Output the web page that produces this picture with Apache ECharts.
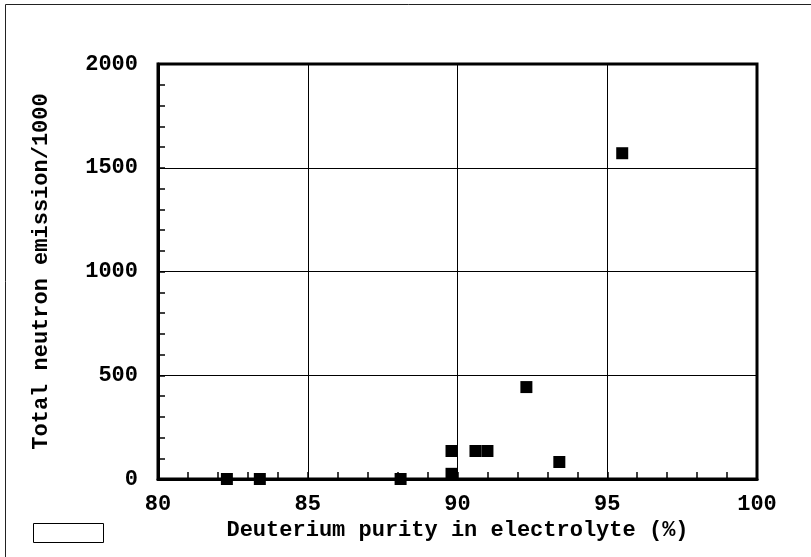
<!DOCTYPE html>
<html>
<head>
<meta charset="utf-8">
<script src="https://cdn.jsdelivr.net/npm/echarts@6/dist/echarts.min.js"></script>
<style>
  html, body { margin: 0; padding: 0; background: #fff; }
  #main { width: 811px; height: 557px; }
</style>
</head>
<body>
<div id="main"></div>
<script type="text/javascript">
    // data
    var purity = [82.3, 83.4, 88.1, 89.8, 89.8, 90.6, 91.0, 92.3, 93.4, 95.5];
    var neutrons = [0, 0, 0, 135, 25, 135, 135, 443, 82, 1570];
    var xTicks = [80, 85, 90, 95, 100];
    var yTicks = [0, 500, 1000, 1500, 2000];

    var points = [];
    for (var i = 0; i < purity.length; i++) {
        points.push([purity[i], neutrons[i]]);
    }

    var font = 'Liberation Mono';
    var txt = { fontFamily: font, fontSize: 22, color: '#000', fontWeight: 'bold' };
    var myChart = echarts.init(document.getElementById('main'));
    var option = {
        backgroundColor: '#fff',
        animation: false,
        grid: {
            left: 158, right: 54, top: 64, bottom: 78,
            show: true, borderColor: '#000', borderWidth: 3
        },
        graphic: [
            { type: 'rect', shape: { x: 5.5, y: 4.5, width: 900, height: 900 },
              style: { fill: 'none', stroke: '#222', lineWidth: 1 } },
            { type: 'rect', shape: { x: 33.5, y: 523.5, width: 70, height: 19 },
              style: { fill: '#fff', stroke: '#000', lineWidth: 1 } }
        ],
        xAxis: {
            type: 'value',
            min: xTicks[0], max: xTicks[xTicks.length - 1], interval: 5,
            name: 'Deuterium purity in electrolyte (%)',
            nameLocation: 'middle', nameGap: 40,
            nameTextStyle: txt,
            axisLine: { show: true, lineStyle: { color: '#000', width: 3 } },
            axisTick: { show: true, inside: true, length: 7, lineStyle: { color: '#000', width: 1.5 } },
            minorTick: { show: true, splitNumber: 5, length: 7, lineStyle: { color: '#000', width: 1.5 } },
            axisLabel: Object.assign({ margin: 14 }, txt),
            splitLine: { show: true, lineStyle: { color: '#000', width: 1 } }
        },
        yAxis: {
            type: 'value',
            min: yTicks[0], max: yTicks[yTicks.length - 1], interval: 500,
            name: 'Total neutron emission/1000',
            nameLocation: 'middle', nameGap: 106,
            nameTextStyle: txt,
            axisLine: { show: true, lineStyle: { color: '#000', width: 3 } },
            axisTick: { show: true, inside: true, length: 7, lineStyle: { color: '#000', width: 1.5 } },
            minorTick: { show: true, splitNumber: 5, length: 7, lineStyle: { color: '#000', width: 1.5 } },
            axisLabel: Object.assign({ margin: 20, formatter: function (v) { return String(v); } }, txt),
            splitLine: { show: true, lineStyle: { color: '#000', width: 1 } }
        },
        series: [{
            type: 'scatter',
            symbol: 'rect',
            symbolSize: 12,
            itemStyle: { color: '#000', opacity: 1 },
            data: points
        }]
    };
    myChart.setOption(option);
</script>
</body>
</html>
